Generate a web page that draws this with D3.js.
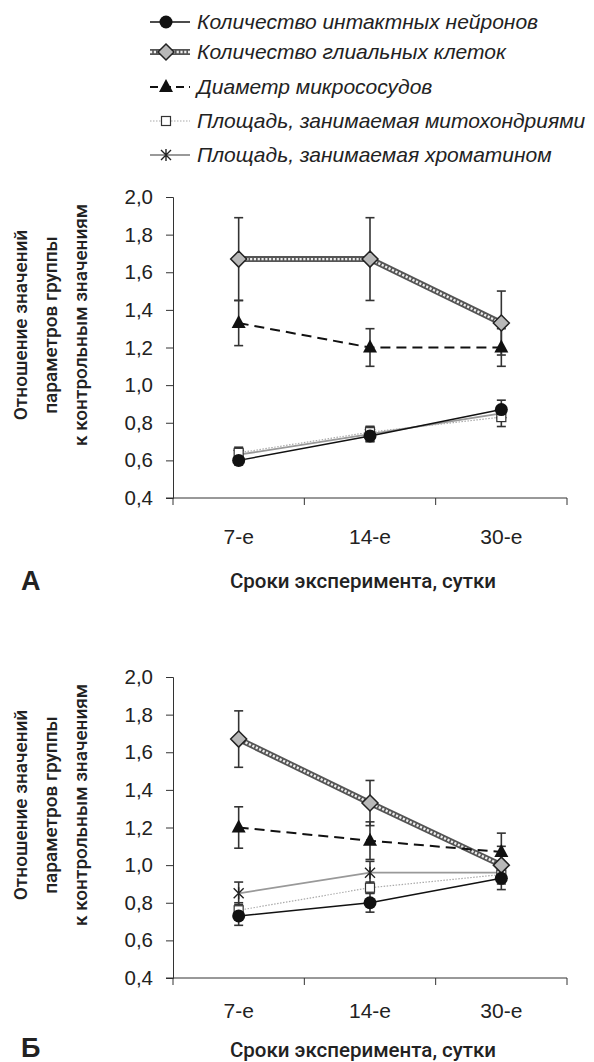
<!DOCTYPE html>
<html>
  <head>
    <meta charset="utf-8">
    <script src="https://d3js.org/d3.v7.min.js"></script>
    <style>
      body { margin: 0; background: #fff; }
      text { font-family: "Liberation Sans", Arial, sans-serif; fill: #222; }
      .ttl { font-family: Roboto, "Liberation Sans", sans-serif; font-weight: 500; }
    </style>
  </head>
  <body>
    <svg id="chart" width="594" height="1062"></svg>
    <script>
      // data
      const days = ["7-е", "14-е", "30-е"];
      const seriesNames = [
        "Количество интактных нейронов",
        "Количество глиальных клеток",
        "Диаметр микрососудов",
        "Площадь, занимаемая митохондриями",
        "Площадь, занимаемая хроматином"
      ];
      const yTicks = [0.4, 0.6, 0.8, 1.0, 1.2, 1.4, 1.6, 1.8, 2.0];

      // panel А
      const neuronsA = [0.60, 0.73, 0.87], neuronsErrA = [0.025, 0.03, 0.05];
      const gliaA = [1.67, 1.67, 1.33], gliaErrA = [0.22, 0.22, 0.17];
      const diamA = [1.33, 1.20, 1.20], diamErrA = [0.12, 0.10, 0.10];
      const mitoA = [0.64, 0.75, 0.83], mitoErrA = [0.03, 0.03, 0.05];
      const chromA = [0.63, 0.74, 0.85], chromErrA = [0.03, 0.04, 0.04];

      // panel Б
      const neuronsB = [0.73, 0.80, 0.93], neuronsErrB = [0.05, 0.05, 0.06];
      const gliaB = [1.67, 1.33, 1.00], gliaErrB = [0.15, 0.12, 0.10];
      const diamB = [1.20, 1.13, 1.07], diamErrB = [0.11, 0.10, 0.10];
      const mitoB = [0.76, 0.88, 0.95], mitoErrB = [0.04, 0.03, 0.03];
      const chromB = [0.85, 0.96, 0.96], chromErrB = [0.06, 0.06, 0.04];

      const svg = d3.select("#chart");

      // how each series looks
      const styles = [
        {line: {stroke: "#111", width: 1.5}, marker: "circle"},
        {line: {stroke: "#555", width: 6}, glia: true, marker: "diamond"},
        {line: {stroke: "#111", width: 2, dash: "10,6"}, marker: "triangle"},
        {line: {stroke: "#aaa", width: 1.2, dash: "1.5,1.5"}, marker: "square"},
        {line: {stroke: "#999", width: 1.8}, marker: "star"}
      ];

      function drawMarker(g, type, x, y) {
        if (type == "circle") {
          g.append("circle").attr("cx", x).attr("cy", y).attr("r", 6.5).attr("fill", "#111");
        } else if (type == "diamond") {
          g.append("path").attr("d", `M${x},${y-8}L${x+8},${y}L${x},${y+8}L${x-8},${y}Z`)
            .attr("fill", "#b8b8b8").attr("stroke", "#222").attr("stroke-width", 1.5);
        } else if (type == "triangle") {
          g.append("path").attr("d", `M${x},${y-8}L${x+7},${y+5}L${x-7},${y+5}Z`).attr("fill", "#111");
        } else if (type == "square") {
          g.append("rect").attr("x", x-4.5).attr("y", y-4.5).attr("width", 9).attr("height", 9)
            .attr("fill", "#fff").attr("stroke", "#333").attr("stroke-width", 1.2);
        } else {
          g.append("path").attr("d", `M${x-5},${y-5}L${x+5},${y+5}M${x+5},${y-5}L${x-5},${y+5}M${x},${y-6}L${x},${y+6}`)
            .attr("stroke", "#222").attr("stroke-width", 1.4);
        }
      }

      function drawLine(g, st, pts) {
        const line = d3.line();
        const p = g.append("path").attr("d", line(pts)).attr("fill", "none")
          .attr("stroke", st.line.stroke).attr("stroke-width", st.line.width);
        if (st.line.dash) p.attr("stroke-dasharray", st.line.dash);
        if (st.glia) {
          g.append("path").attr("d", line(pts)).attr("fill", "none")
            .attr("stroke", "#eee").attr("stroke-width", 2.4).attr("stroke-dasharray", "2.2,1.6");
        }
      }

      // lay: offsets below the x axis for tick labels, title and panel letter
      function drawPanel(top, letter, lay, vals, errs) {
        const g = svg.append("g");
        const x = d3.scaleBand().domain(days).range([173, 567]);
        const y = d3.scaleLinear().domain([0.4, 2.0]).range([top + 301, top]);
        const cx = d => x(d) + x.bandwidth() / 2;

        // y axis
        const yAxis = g.append("g").attr("transform", "translate(173,0)")
          .call(d3.axisLeft(y).tickValues(yTicks).tickSize(7).tickPadding(13)
            .tickFormat(d => d.toFixed(1).replace(".", ",")));
        yAxis.select(".domain").attr("stroke", "#333");
        yAxis.selectAll(".tick line").attr("stroke", "#333");
        yAxis.selectAll(".tick text").style("font-size", "20.5px").attr("fill", "#222");

        // x axis, ticks between the categories
        const bottom = y(0.4);
        g.append("line").attr("x1", 166).attr("x2", 567).attr("y1", bottom).attr("y2", bottom).attr("stroke", "#333");
        const edges = days.map(d => x(d)).concat([x.range()[1]]);
        g.selectAll("line.xt").data(edges).join("line").attr("class", "xt")
          .attr("x1", d => d).attr("x2", d => d).attr("y1", bottom).attr("y2", bottom + 7).attr("stroke", "#333");
        g.selectAll("text.xl").data(days).join("text").attr("class", "xl")
          .attr("x", d => cx(d)).attr("y", bottom + lay[0]).attr("text-anchor", "middle")
          .style("font-size", "21px").text(d => d);

        // titles
        g.append("text").attr("class", "ttl").attr("x", 363).attr("y", bottom + lay[1])
          .attr("text-anchor", "middle").style("font-size", "20.5px").text("Сроки эксперимента, сутки");
        g.append("text").attr("x", 21).attr("y", bottom + lay[2])
          .style("font-size", "27px").style("font-weight", "bold").text(letter);
        const yt = g.append("text").attr("class", "ttl").attr("text-anchor", "middle")
          .attr("transform", `translate(0,${top + 128}) rotate(-90)`).style("font-size", "19px");
        ["Отношение значений", "параметров группы", "к контрольным значениям"].forEach((t, i) => {
          yt.append("tspan").attr("x", 0).attr("y", 27 + i * 30).text(t);
        });

        // error bars
        vals.forEach((v, s) => {
          days.forEach((d, i) => {
            const lo = y(v[i] - errs[s][i]), hi = y(v[i] + errs[s][i]);
            g.append("line").attr("x1", cx(d)).attr("x2", cx(d)).attr("y1", lo).attr("y2", hi)
              .attr("stroke", "#333").attr("stroke-width", 1.6);
            [lo, hi].forEach(yy => g.append("line").attr("x1", cx(d) - 4.5).attr("x2", cx(d) + 4.5)
              .attr("y1", yy).attr("y2", yy).attr("stroke", "#333").attr("stroke-width", 1.6));
          });
        });

        // lines, then markers
        const order = [4, 3, 1, 2, 0];
        order.forEach(s => drawLine(g, styles[s], days.map((d, i) => [cx(d), y(vals[s][i])])));
        order.forEach(s => days.forEach((d, i) => drawMarker(g, styles[s].marker, cx(d), y(vals[s][i]))));
      }

      drawPanel(197, "А", [46, 90, 92], [neuronsA, gliaA, diamA, mitoA, chromA], [neuronsErrA, gliaErrA, diamErrA, mitoErrA, chromErrA]);
      drawPanel(677, "Б", [40, 79, 79], [neuronsB, gliaB, diamB, mitoB, chromB], [neuronsErrB, gliaErrB, diamErrB, mitoErrB, chromErrB]);

      // legend
      const legend = svg.append("g");
      const legendY = [22, 52, 87, 121, 155];
      seriesNames.forEach((name, s) => {
        const yy = legendY[s];
        if (s == 2) {
          drawLine(legend, {line: {stroke: "#111", width: 2, dash: "8,5"}}, [[150, yy], [190, yy]]);
        } else {
          drawLine(legend, styles[s], [[150, yy], [190, yy]]);
        }
        drawMarker(legend, styles[s].marker, 166, yy);
        legend.append("text").attr("x", 197).attr("y", yy + 7)
          .style("font-size", "21px").style("font-style", "italic").text(name);
      });
    </script>
  </body>
</html>
